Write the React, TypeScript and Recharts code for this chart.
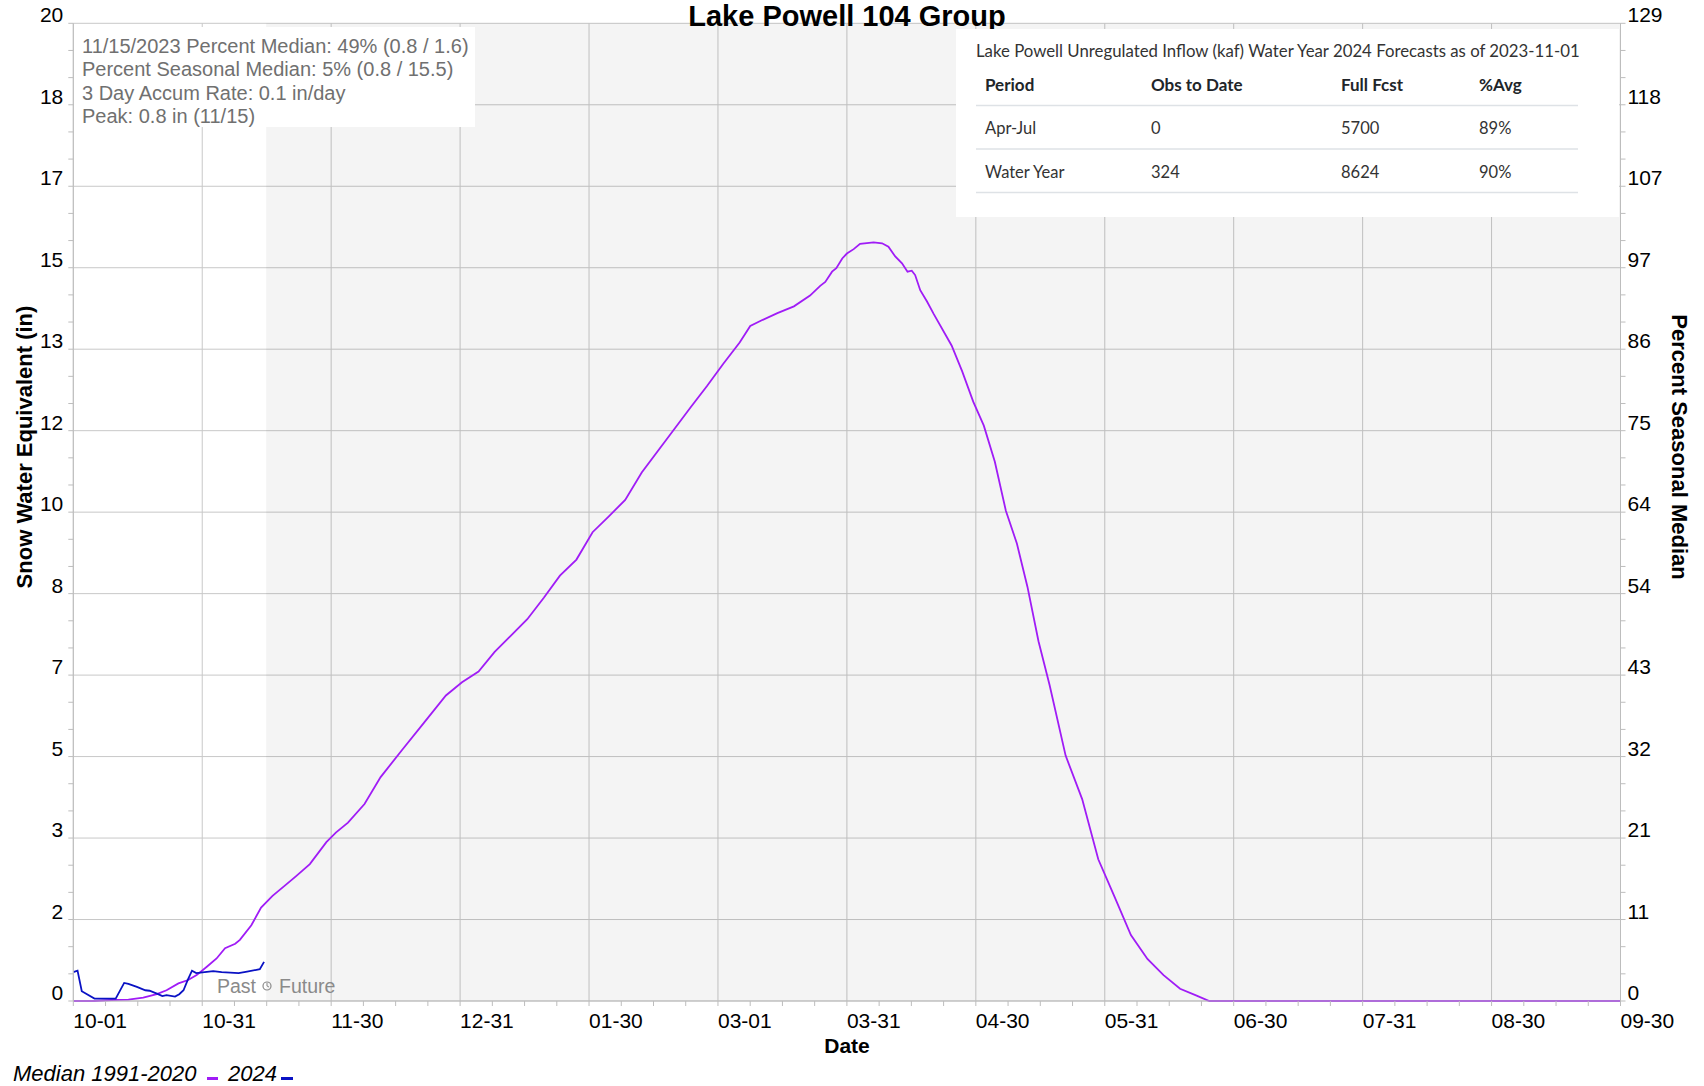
import React from 'react';
import { LineChart, Line, XAxis, YAxis, CartesianGrid, ReferenceArea } from 'recharts';

// ---------- data ----------
const monthLabels = ['10-01', '10-31', '11-30', '12-31', '01-30', '03-01', '03-31', '04-30', '05-31', '06-30', '07-31', '08-30', '09-30'];
const leftLabels = ['0', '2', '3', '5', '7', '8', '10', '12', '13', '15', '17', '18', '20'];
const rightLabels = ['0', '11', '21', '32', '43', '54', '64', '75', '86', '97', '107', '118', '129'];

// day index since 10-01 (water year)
const medianDays = [0, 5, 9, 13, 16.5, 19.7, 22, 24.8, 27.1, 29.1, 31.5, 33.8, 35.8, 38.2, 39.3, 42, 44.3, 47, 49.9, 52.5, 55.8, 59.7, 62, 64.8, 68.7, 72.5, 77.6, 82.8, 87.9, 91.7, 95.6, 99.4, 103.3, 107.1, 111, 114.8, 118.7, 122.5, 126.4, 130.2, 134.1, 137.9, 141.8, 145.6, 149.5, 153.3, 157.2, 159.7, 162.3, 166.1, 170, 173.8, 176.2, 177.4, 179, 180, 181.4, 182.5, 184.1, 185.6, 188.8, 190.8, 192.3, 193.9, 195.5, 196.8, 197.8, 198.6, 199.8, 201.4, 203, 207.2, 209.7, 212.3, 214.8, 217.4, 220, 222.6, 225.1, 227.7, 230.3, 234.1, 238, 241.8, 245.7, 249.5, 253.4, 257.2, 261.1, 265, 268, 300, 365];
const medianValues = [0, 0, 0.02, 0.03, 0.07, 0.14, 0.22, 0.36, 0.43, 0.53, 0.7, 0.87, 1.08, 1.17, 1.25, 1.55, 1.91, 2.15, 2.36, 2.55, 2.8, 3.25, 3.45, 3.65, 4.03, 4.58, 5.14, 5.7, 6.25, 6.52, 6.74, 7.14, 7.48, 7.81, 8.25, 8.7, 9.03, 9.59, 9.92, 10.25, 10.81, 11.25, 11.7, 12.14, 12.58, 13.03, 13.47, 13.81, 13.92, 14.07, 14.21, 14.43, 14.63, 14.71, 14.92, 14.99, 15.19, 15.29, 15.38, 15.49, 15.52, 15.5, 15.43, 15.23, 15.09, 14.92, 14.94, 14.85, 14.54, 14.31, 14.05, 13.41, 12.88, 12.26, 11.77, 11.03, 10.03, 9.36, 8.47, 7.36, 6.47, 5.02, 4.13, 2.9, 2.12, 1.35, 0.86, 0.53, 0.25, 0.11, 0, 0, 0];

const obsDays = [0, 1, 2, 5, 10, 12, 13, 15, 17, 18, 20, 21, 22, 24, 25, 26, 27, 28, 29, 31, 33, 35, 39, 41, 44, 45];
const obsValues = [0.59, 0.62, 0.2, 0.05, 0.05, 0.37, 0.35, 0.29, 0.22, 0.21, 0.14, 0.1, 0.12, 0.09, 0.14, 0.22, 0.43, 0.62, 0.57, 0.59, 0.61, 0.59, 0.57, 0.6, 0.65, 0.8];

const infoLines = [
  '11/15/2023 Percent Median: 49% (0.8 / 1.6)',
  'Percent Seasonal Median: 5% (0.8 / 15.5)',
  '3 Day Accum Rate: 0.1 in/day',
  'Peak: 0.8 in (11/15)',
];
const tableTitle = 'Lake Powell Unregulated Inflow (kaf) Water Year 2024 Forecasts as of 2023-11-01';
const tableHeader = ['Period', 'Obs to Date', 'Full Fcst', '%Avg'];
const tableRows = [
  ['Apr-Jul', '0', '5700', '89%'],
  ['Water Year', '324', '8624', '90%'],
];

const todayDay = 45.5;
const yearDays = 365;
const leftMax = 20;
const seasonalMedianPeak = 15.5;

// ---------- derived ----------
const rightMax = (leftMax / seasonalMedianPeak) * 100;
const medianData = medianDays.map((d, i) => ({ day: d, v: medianValues[i], pct: (medianValues[i] / seasonalMedianPeak) * 100 }));
const obsData = obsDays.map((d, i) => ({ day: d, v: obsValues[i] }));
const xMajor = monthLabels.map((_, i) => (i * yearDays) / 12);
const xAll = Array.from({ length: 49 }, (_, i) => (i * yearDays) / 48);
const leftMajor = leftLabels.map((_, i) => (i * leftMax) / 12);
const leftAll = Array.from({ length: 37 }, (_, i) => (i * leftMax) / 36);
const rightAll = Array.from({ length: 37 }, (_, i) => (i * rightMax) / 36);

const PURPLE = '#a01cf6';
const BLUE = '#0a12c4';
const AX = '#bdbdbd';
const FONT = '"Liberation Sans", Arial, sans-serif';
const TFONT = 'Lato, "Noto Sans", sans-serif';

const XTick = (p: any) => {
  const { x, y, index } = p;
  if (index % 4 !== 0) return <g />;
  return (
    <text x={x} y={y} dy={20} textAnchor="start" fontSize={21} fill="#000" fontFamily={FONT}>
      {monthLabels[index / 4]}
    </text>
  );
};
const LTick = (p: any) => {
  const { x, y, index } = p;
  if (index % 3 !== 0) return <g />;
  return (
    <text x={x} y={y} dy={-1} textAnchor="end" fontSize={21} fill="#000" fontFamily={FONT}>
      {leftLabels[index / 3]}
    </text>
  );
};
const RTick = (p: any) => {
  const { x, y, index } = p;
  if (index % 3 !== 0) return <g />;
  return (
    <text x={x} y={y} dy={-1} textAnchor="start" fontSize={21} fill="#000" fontFamily={FONT}>
      {rightLabels[index / 3]}
    </text>
  );
};

export default function App() {
  const W = 1704;
  const H = 1086;
  const tableCols = [985, 1151, 1341, 1479];
  return (
    <div style={{ position: 'absolute', left: 0, top: 0, width: W, height: H, background: '#fff' }}>
      <LineChart width={W} height={H} margin={{ top: 23.3, right: 0, bottom: 0, left: 0 }}>
        <CartesianGrid yAxisId="L" stroke="#c8c8c8" horizontalValues={leftMajor} verticalValues={xMajor} />
        <ReferenceArea yAxisId="L" x1={todayDay} x2={yearDays} y1={0} y2={leftMax} fill="#000" fillOpacity={0.045} stroke="none" />
        <XAxis
          dataKey="day"
          type="number"
          domain={[0, yearDays]}
          ticks={xAll}
          interval={0}
          height={85}
          tick={<XTick />}
          tickSize={5}
          tickMargin={2}
          stroke={AX}
          allowDataOverflow
        />
        <YAxis
          yAxisId="L"
          type="number"
          domain={[0, leftMax]}
          ticks={leftAll}
          interval={0}
          width={73.3}
          tick={<LTick />}
          tickSize={5}
          tickMargin={5}
          stroke={AX}
        />
        <YAxis
          yAxisId="R"
          orientation="right"
          type="number"
          domain={[0, rightMax]}
          ticks={rightAll}
          interval={0}
          width={83.5}
          tick={<RTick />}
          tickSize={5}
          tickMargin={2}
          stroke={AX}
          allowDataOverflow
        />
        <Line yAxisId="R" data={medianData} dataKey="pct" type="linear" stroke={PURPLE} strokeOpacity={0} strokeWidth={1} dot={false} activeDot={false} isAnimationActive={false} legendType="none" />
        <Line yAxisId="L" data={medianData} dataKey="v" type="linear" stroke={PURPLE} strokeWidth={1.8} dot={false} isAnimationActive={false} />
        <Line yAxisId="L" data={obsData} dataKey="v" type="linear" stroke={BLUE} strokeWidth={1.8} dot={false} isAnimationActive={false} />
      </LineChart>

      <svg width={W} height={H} style={{ position: 'absolute', left: 0, top: 0, pointerEvents: 'none' }}>
        {/* title */}
        <text x={847} y={26} textAnchor="middle" fontSize={29} fontWeight="bold" fontFamily={FONT} fill="#000">
          Lake Powell 104 Group
        </text>

        {/* info box */}
        <rect x={74} y={27} width={401} height={100} fill="#fff" />
        {infoLines.map((t, i) => (
          <text key={t} x={82} y={53 + i * 23.4} fontSize={20} fontFamily={FONT} fill="#707070">
            {t}
          </text>
        ))}

        {/* forecast table */}
        <rect x={956} y={29} width={663} height={188} fill="#fff" />
        <text x={976} y={57} fontSize={16.8} fontFamily={TFONT} fill="#333">
          {tableTitle}
        </text>
        {tableHeader.map((t, i) => (
          <text key={t} x={tableCols[i]} y={91} fontSize={17} fontWeight="bold" fontFamily={TFONT} fill="#212529">
            {t}
          </text>
        ))}
        {tableRows.map((row, r) =>
          row.map((t, i) => (
            <text key={r + '-' + i} x={tableCols[i]} y={134 + r * 44} fontSize={16.5} fontFamily={TFONT} fill="#333">
              {t}
            </text>
          ))
        )}
        {[105.5, 149, 192.5].map((yy) => (
          <line key={yy} x1={976} x2={1578} y1={yy} y2={yy} stroke="#dee2e6" strokeWidth={1.5} />
        ))}

        {/* past / future */}
        <text x={256} y={993} textAnchor="end" fontSize={19.5} fontFamily={FONT} fill="#8a8a8a">
          Past
        </text>
        <circle cx={267} cy={986} r={4} fill="none" stroke="#8a8a8a" strokeWidth={1.2} />
        <line x1={267} y1={986} x2={267} y2={983} stroke="#8a8a8a" strokeWidth={1} />
        <line x1={267} y1={986} x2={269} y2={987} stroke="#8a8a8a" strokeWidth={1} />
        <text x={279} y={993} textAnchor="start" fontSize={19.5} fontFamily={FONT} fill="#8a8a8a">
          Future
        </text>

        {/* axis titles */}
        <text x={847} y={1053} textAnchor="middle" fontSize={21} fontWeight="bold" fontFamily={FONT} fill="#000">
          Date
        </text>
        <text
          transform="translate(32,447) rotate(-90)"
          textAnchor="middle"
          fontSize={22}
          fontWeight="bold"
          fontFamily={FONT}
          fill="#000"
        >
          Snow Water Equivalent (in)
        </text>
        <text
          transform="translate(1672,447) rotate(90)"
          textAnchor="middle"
          fontSize={22}
          fontWeight="bold"
          fontFamily={FONT}
          fill="#000"
        >
          Percent Seasonal Median
        </text>

        {/* legend */}
        <text x={13} y={1081} fontSize={22} fontStyle="italic" fontFamily={FONT} fill="#000">
          Median 1991-2020
        </text>
        <rect x={207} y={1077} width={11} height={3} fill={PURPLE} />
        <text x={228} y={1081} fontSize={22} fontStyle="italic" fontFamily={FONT} fill="#000">
          2024
        </text>
        <rect x={281} y={1077} width={12} height={3} fill={BLUE} />
      </svg>
    </div>
  );
}
